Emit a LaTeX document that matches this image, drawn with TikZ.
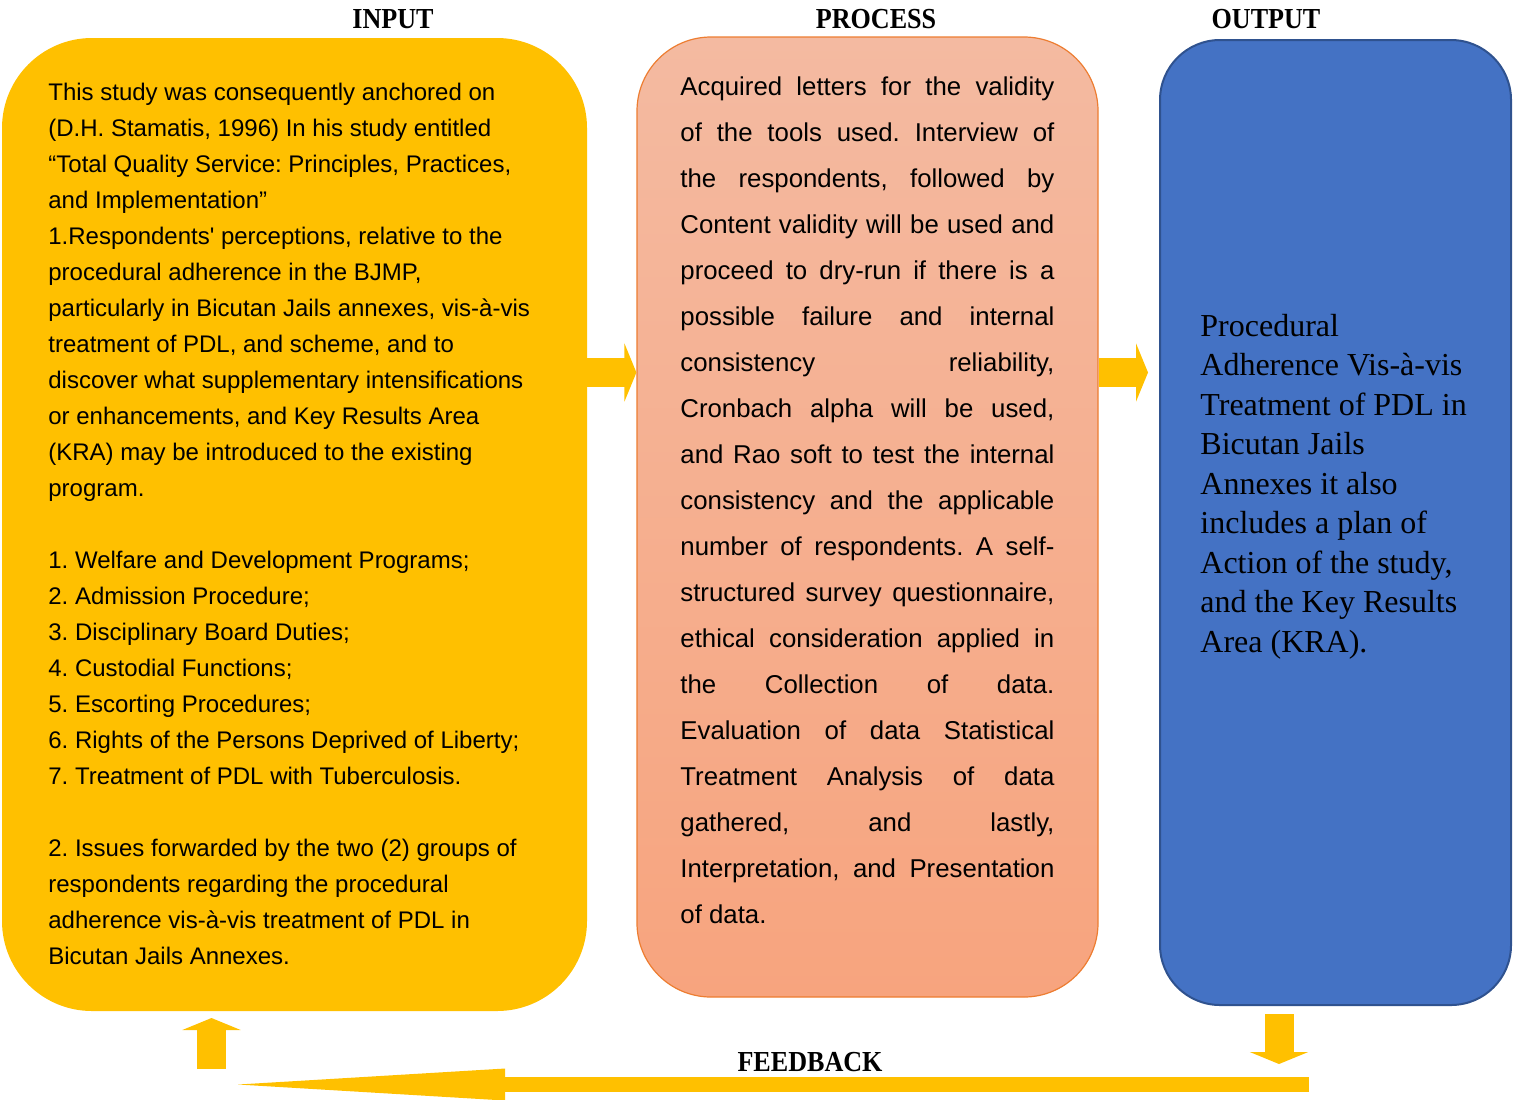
\documentclass[tikz,border=0pt]{standalone}
\usepackage{fontspec}
\setmainfont{Liberation Sans}[Ligatures=TeXOff]
\newfontfamily\headfont[FakeStretch=0.9]{Liberation Serif}
\newfontfamily\outfont{Liberation Serif}
\usetikzlibrary{arrows.meta,calc,positioning}
\definecolor{ipo}{HTML}{FFC000}
\definecolor{proctop}{HTML}{F4BAA1}
\definecolor{procbot}{HTML}{F7A47E}
\definecolor{procline}{HTML}{ED7D31}
\definecolor{outfill}{HTML}{4472C4}
\definecolor{outline}{HTML}{2F528F}
\newcommand\jline[1]{\makebox[187pt][s]{\spaceskip=0pt\xspaceskip=0pt #1}}
\frenchspacing
\tikzset{
    inbox/.style={
    rectangle,rounded corners=45pt,fill=ipo,minimum width=292.5pt,minimum height=486.5pt
    },
    procbox/.style={
    rectangle,rounded corners=37pt,draw=procline,line width=0.6pt,top color=proctop,bottom color=procbot,
    minimum width=230.5pt,minimum height=480pt
    },
    outbox/.style={
    rectangle,rounded corners=30pt,draw=outline,line width=1pt,fill=outfill,minimum width=175.5pt,minimum height=482.5pt
    },
    head/.style={
    font=\headfont\bfseries\fontsize{14.5}{17}\selectfont
    },
    body/.style={
    anchor=north west,inner sep=0pt,align=left,
    execute at begin node={\spaceskip=0pt\xspaceskip=0pt}
    },
    flow/.style={
    draw=ipo,line width=14.5pt,-{Triangle[length=6pt,width=29pt]}
    },
    loop/.style={
    draw=ipo,line width=7.5pt
    },
}
\begin{document}
\begin{tikzpicture}[x=0.5pt,y=-0.5pt]
   \useasboundingbox (0,0) rectangle (1518,1099);
   % the three boxes
   \node[inbox] (inp) at (294.5,524.5) {};
   \node[procbox] (proc) at (867.5,517) {};
   \node[outbox] (outp) at (1335.5,522.5) {};

   \node[head] (tin) at (393,19.5) {INPUT};
   \node[head] (tproc) at (876,19.5) {PROCESS};
   \node[head] (tout) at (1266,19.5) {OUTPUT};

   \node[body,text width=260pt,font=\fontsize{12}{18}\selectfont] (intext) at (48,83) {%
     This study was consequently anchored on\\
     (D.H. Stamatis, 1996) In his study entitled\\
     “Total Quality Service: Principles, Practices,\\
     and Implementation”\\
     1.Respondents' perceptions, relative to the\\
     procedural adherence in the BJMP,\\
     particularly in Bicutan Jails annexes, vis-à-vis\\
     treatment of PDL, and scheme, and to\\
     discover what supplementary intensifications\\
     or enhancements, and Key Results Area\\
     (KRA) may be introduced to the existing\\
     program.\\[18pt]
     1. Welfare and Development Programs;\\
     2. Admission Procedure;\\
     3. Disciplinary Board Duties;\\
     4. Custodial Functions;\\
     5. Escorting Procedures;\\
     6. Rights of the Persons Deprived of Liberty;\\
     7. Treatment of PDL with Tuberculosis.\\[18pt]
     2. Issues forwarded by the two (2) groups of\\
     respondents regarding the procedural\\
     adherence vis-à-vis treatment of PDL in\\
     Bicutan Jails Annexes.};

   \node[body,text width=190pt,font=\fontsize{12.9}{23}\selectfont] (proctext) at (680,76) {%
     \jline{Acquired letters for the validity}\\
     \jline{of the tools used. Interview of}\\
     \jline{the respondents, followed by}\\
     \jline{Content validity will be used and}\\
     \jline{proceed to dry-run if there is a}\\
     \jline{possible failure and internal}\\
     \jline{consistency reliability,}\\
     \jline{Cronbach alpha will be used,}\\
     \jline{and Rao soft to test the internal}\\
     \jline{consistency and the applicable}\\
     \jline{number of respondents. A self-}\\
     \jline{structured survey questionnaire,}\\
     \jline{ethical consideration applied in}\\
     \jline{the Collection of data.}\\
     \jline{Evaluation of data Statistical}\\
     \jline{Treatment Analysis of data}\\
     \jline{gathered, and lastly,}\\
     \jline{Interpretation, and Presentation}\\
     of data.};

   \node[body,text width=150pt,font=\outfont\fontsize{16}{19.75}\selectfont] (outtext) at (1200,313.5) {%
     Procedural\\
     Adherence Vis-à-vis\\
     Treatment of PDL in\\
     Bicutan Jails\\
     Annexes it also\\
     includes a plan of\\
     Action of the study,\\
     and the Key Results\\
     Area (KRA).};

   % arrows between the boxes
   \coordinate (row) at (0,372.5);
   \draw[flow] (inp.east |- row) -- (proc.west |- row);
   \draw[flow] (proc.east |- row) -- ([xshift=-5.5pt]outp.west |- row);

   % feedback loop
   \coordinate (dntop) at (1279,1014);
   \coordinate (dntip) at (1279,1064);
   \coordinate (fbR) at (1309,1084.5);
   \coordinate (fbM) at (505,1084.5);
   \coordinate (fbL) at (238,1084.5);
   \coordinate (upfoot) at (211.5,1069);
   \coordinate (uptip) at (211.5,1018);
   \draw[flow] (dntop) -- (dntip);
   \draw[loop] (fbR) -- (fbM);
   \fill[ipo] (fbL) -- ($(fbM)+(0,-16)$) -- ($(fbM)+(0,16)$) -- cycle;
   \draw[flow] (upfoot) -- (uptip);
   \node[head] (tfb) at (810,1062) {FEEDBACK};
\end{tikzpicture}
\end{document}
